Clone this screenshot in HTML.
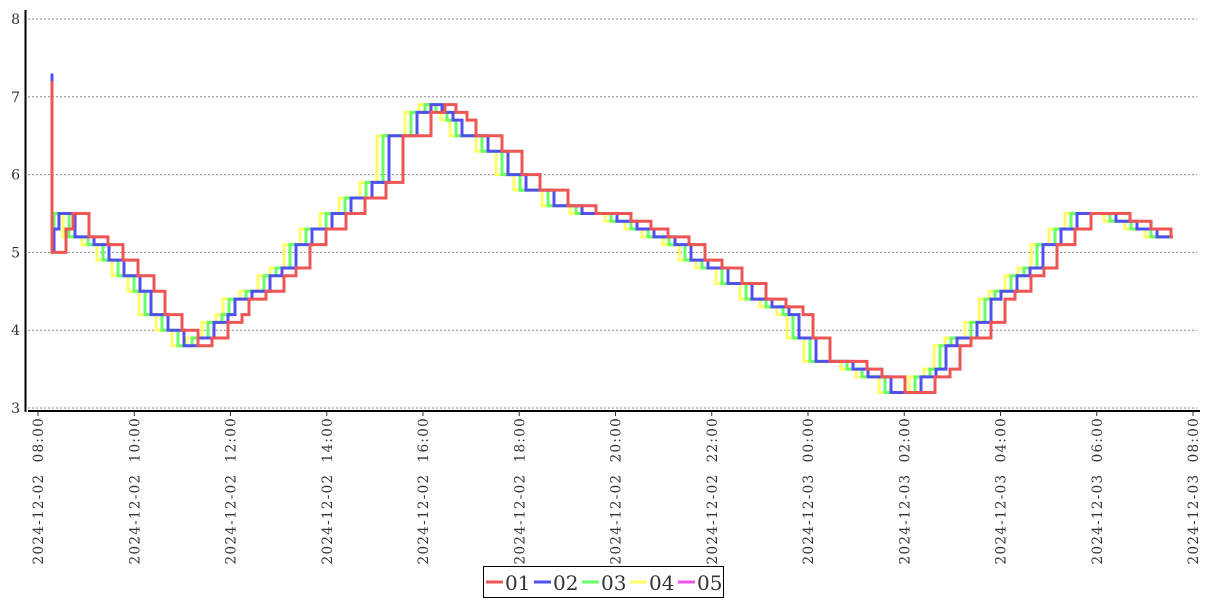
<!DOCTYPE html>
<html><head><meta charset="utf-8"><style>
html,body{margin:0;padding:0;background:#fff;width:1207px;height:600px;overflow:hidden}
svg text{font-family:"DejaVu Serif","Liberation Serif",serif;fill:#333}
</style></head><body>
<svg id="s" width="1207" height="600" xmlns="http://www.w3.org/2000/svg"></svg>
<script>
const s=document.getElementById('s');let h='';
const Y=v=>408-(v-3)*77.8;
for(let v=3;v<=8;v++){const y=Y(v);h+=`<line x1="28" x2="1197" y1="${y}" y2="${y}" stroke="#888" stroke-dasharray="2,2" stroke-width="1"/>`;
h+=`<text x="20" y="${y+5}" font-size="14" text-anchor="end">${v}</text>`;}
h+=`<line x1="25.5" x2="25.5" y1="10" y2="412" stroke="#000" stroke-width="2"/>`;
h+=`<line x1="28" x2="1200" y1="411" y2="411" stroke="#000" stroke-width="2"/>`;
const labs=["2024-12-02  08:00","2024-12-02  10:00","2024-12-02  12:00","2024-12-02  14:00","2024-12-02  16:00","2024-12-02  18:00","2024-12-02  20:00","2024-12-02  22:00","2024-12-03  00:00","2024-12-03  02:00","2024-12-03  04:00","2024-12-03  06:00","2024-12-03  08:00"];
labs.forEach((l,i)=>{const x=38+i*96.25;h+=`<line x1="${x}" x2="${x}" y1="411" y2="416" stroke="#333"/>`;
h+=`<text transform="translate(${x+5},417) rotate(-90)" font-size="13.5" text-anchor="end" letter-spacing="1.3" xml:space="preserve">${l}</text>`;});
const red=[[66,5.0],[73,5.3],[89,5.5],[108,5.2],[123,5.1],[138,4.9],[154,4.7],[165,4.5],[182,4.2],[198,4.0],[212,3.8],[228,3.9],[242,4.1],[249,4.2],[266,4.4],[284,4.5],[296,4.7],[310,4.8],[326,5.1],[346,5.3],[365,5.5],[386,5.7],[403,5.9],[431,6.5],[445,6.8],[456,6.9],[467,6.8],[476,6.7],[502,6.5],[522,6.3],[540,6.0],[568,5.8],[596,5.6],[631,5.5],[651,5.4],[668,5.3],[689,5.2],[705,5.1],[722,4.9],[742,4.8],[766,4.6],[786,4.4],[803,4.3],[813,4.2],[830,3.9],[867,3.6],[882,3.5],[905,3.4],[935,3.2],[950,3.4],[960,3.5],[971,3.8],[991,3.9],[1005,4.1],[1015,4.4],[1031,4.5],[1044,4.7],[1057,4.8],[1075,5.1],[1091,5.3],[1130,5.5],[1151,5.4],[1171,5.3],[1173,5.2]];
function path(shift,spike,start,end,col,first){let x0=52,d=`M${x0} ${Y(spike)} L${x0} ${Y(first)}`;
red.forEach(([x,v],i)=>{let xe=i==red.length-1?end:Math.max(x-shift,x0+2);d+=` L${xe} ${Y(v)}`;const nx=red[i+1];if(nx){d+=` L${xe} ${Y(nx[1])}`;}});
return `<path d="${d}" fill="none" stroke="${col}" stroke-width="3" stroke-linejoin="miter"/>`;}
h+=path(26,5.5,52,1173,"#ffff66",5.5);
h+=path(20,5.5,52,1173,"#66ff66",5.5);
h+=path(14,7.3,52,1173,"#5050ee",5.3);
h+=path(0,7.2,52,1173,"#ee5555",5.0);
h+=`<rect x="483.5" y="566.5" width="240" height="31" fill="#fff" stroke="#000"/>`;
const lg=[["01","#ee5555"],["02","#5050ee"],["03","#66ff66"],["04","#ffff66"],["05","#ee55ee"]];
lg.forEach(([t,c],i)=>{const x=486+i*48;h+=`<line x1="${x}" x2="${x+17}" y1="582" y2="582" stroke="${c}" stroke-width="3"/>`;
h+=`<text x="${x+19}" y="590" font-size="20">${t}</text>`;});
s.innerHTML=h;
</script>
</body></html>
